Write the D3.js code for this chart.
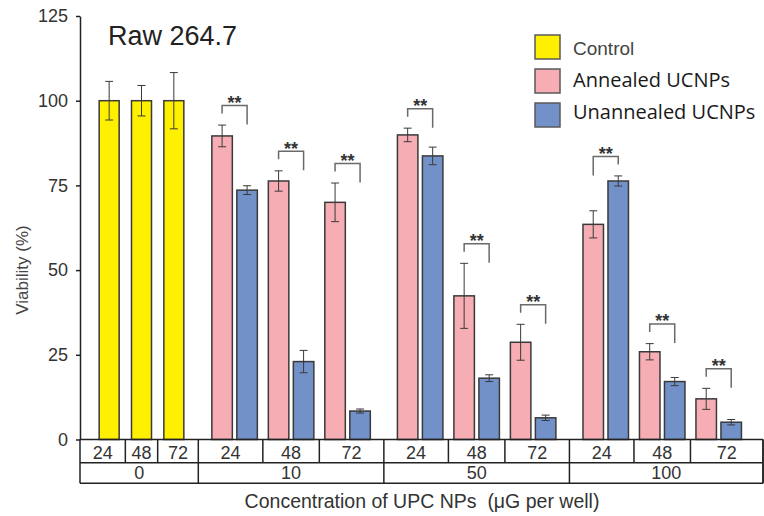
<!DOCTYPE html>
<html>
<head>
<meta charset="utf-8">
<script src="https://cdn.jsdelivr.net/npm/d3@7"></script>
<style>
  html, body { margin: 0; padding: 0; background: #fff; }
  svg { display: block; }
</style>
</head>
<body>
<svg id="chart" width="764" height="516"></svg>
<script>
// ---------- data ----------
const times = ["24", "48", "72"];
const concentrations = ["0", "10", "50", "100"];
const treatedConcentrations = ["10", "50", "100"];
const seriesNames = ["Control", "Annealed UCNPs", "Unannealed UCNPs"];
const yTicks = [0, 25, 50, 75, 100, 125];

const controlMean = [100, 100, 100];
const controlErr = [5.7, 4.5, 8.3];

// rows: concentration 10, 50, 100 ; cols: 24, 48, 72 h
const annealedMean = [[89.6, 76.3, 70.0], [89.9, 42.4, 28.7], [63.5, 25.9, 12.0]];
const annealedErr  = [[3.2, 3.0, 5.7], [2.0, 9.6, 5.3], [4.0, 2.4, 3.1]];
const unannealedMean = [[73.6, 23.0, 8.4], [83.7, 18.1, 6.4], [76.3, 17.1, 5.1]];
const unannealedErr  = [[1.3, 3.3, 0.6], [2.6, 1.0, 0.8], [1.5, 1.2, 0.8]];
const significance = [["**", "**", "**"], ["**", "**", "**"], ["**", "**", "**"]];

const title = "Raw 264.7";
const yLabel = "Viability (%)";
const xLabel = "Concentration of UPC NPs  (\u03bcG per well)";

// ---------- styles ----------
const colors = { "Control": "#fff000", "Annealed UCNPs": "#f6adb3", "Unannealed UCNPs": "#7391c9" };
const font = "'Liberation Sans', Arial, Helvetica, sans-serif";

const svg = d3.select("#chart");

const axisX = 80, y0 = 439.5, yTop = 16;
const tableRow1 = 462.7, tableRow2 = 483.3, tableRight = 763;

const y = d3.scaleLinear().domain([0, 125]).range([y0, yTop]);

// control group
const ctrlLeft = 80, ctrlRight = 198.3;
const xCtrl = d3.scaleBand().domain(times).range([93, 190]);
// treated groups
const xGroup = d3.scaleBand().domain(treatedConcentrations).range([198.3, 755]);
const xTime = d3.scaleBand().domain(times).range([0, xGroup.bandwidth()]).paddingOuter(0.1425);
const xSeries = d3.scaleBand().domain(["Annealed UCNPs", "Unannealed UCNPs"]).range([-22.75, 22.75]).paddingInner(0.18);

// ---------- bars data ----------
const bars = [];
times.forEach((t, i) => {
  const cx = xCtrl(t) + xCtrl.bandwidth() / 2;
  bars.push({ series: "Control", x: cx - 10, w: 20, v: controlMean[i], e: controlErr[i] });
});
const pairs = [];
treatedConcentrations.forEach((c, gi) => {
  times.forEach((t, ti) => {
    const center = xGroup(c) + xTime(t) + xTime.bandwidth() / 2;
    const a = { series: "Annealed UCNPs", x: center + xSeries("Annealed UCNPs"), w: xSeries.bandwidth(), v: annealedMean[gi][ti], e: annealedErr[gi][ti] };
    const u = { series: "Unannealed UCNPs", x: center + xSeries("Unannealed UCNPs"), w: xSeries.bandwidth(), v: unannealedMean[gi][ti], e: unannealedErr[gi][ti] };
    bars.push(a, u);
    pairs.push({ a, u, label: significance[gi][ti] });
  });
});

// ---------- bars ----------
svg.append("g").selectAll("rect").data(bars).join("rect")
  .attr("x", d => d.x).attr("width", d => d.w)
  .attr("y", d => y(d.v)).attr("height", d => y0 - y(d.v))
  .attr("fill", d => colors[d.series])
  .attr("stroke", "#3a3a3a").attr("stroke-width", 1.5);

// error bars
const eb = svg.append("g").attr("stroke", "#3a3a3a").attr("stroke-width", 1).attr("fill", "none");
bars.forEach(d => {
  const cx = d.x + d.w / 2;
  const t = y(d.v + d.e), b = y(d.v - d.e);
  eb.append("line").attr("x1", cx).attr("x2", cx).attr("y1", t).attr("y2", b);
  eb.append("line").attr("x1", cx - 4).attr("x2", cx + 4).attr("y1", t).attr("y2", t);
  eb.append("line").attr("x1", cx - 4).attr("x2", cx + 4).attr("y1", b).attr("y2", b);
});

// significance brackets
const br = svg.append("g");
pairs.forEach(p => {
  const ax = p.a.x + p.a.w / 2, ux = p.u.x + p.u.w / 2;
  const ta = y(p.a.v + p.a.e), tu = y(p.u.v + p.u.e);
  const by = Math.min(ta, tu) - 19.5;
  const aLeg = ta <= tu ? by + 8 : by + 19;
  const uLeg = tu < ta ? by + 8 : by + 19;
  br.append("path")
    .attr("d", `M${ax},${aLeg}V${by}H${ux}V${uLeg}`)
    .attr("fill", "none").attr("stroke", "#6a6a6a").attr("stroke-width", 1.5);
  br.append("text").attr("x", (ax + ux) / 2).attr("y", by + 3.3)
    .attr("text-anchor", "middle").attr("font-family", font).attr("font-size", 18)
    .attr("font-weight", "bold").attr("fill", "#333").text(p.label);
});

// ---------- y axis ----------
const yAxis = svg.append("g").attr("transform", `translate(${axisX},0)`)
  .call(d3.axisLeft(y).tickValues(yTicks).tickSize(4).tickPadding(8).tickSizeOuter(0));
yAxis.select(".domain").attr("stroke", "#222").attr("stroke-width", 1.5);
yAxis.selectAll(".tick line").attr("stroke", "#222").attr("stroke-width", 1.5);
yAxis.selectAll(".tick text").attr("font-family", font).attr("font-size", 18).attr("fill", "#333");

// ---------- table ----------
const tg = svg.append("g").attr("stroke", "#222").attr("stroke-width", 1.5).attr("fill", "none");
[y0, tableRow1, tableRow2].forEach(yy =>
  tg.append("line").attr("x1", axisX).attr("x2", tableRight).attr("y1", yy).attr("y2", yy));
tg.append("line").attr("x1", axisX).attr("x2", axisX).attr("y1", y0).attr("y2", tableRow2);
tg.append("line").attr("x1", tableRight).attr("x2", tableRight).attr("y1", y0).attr("y2", tableRow2);

// time cells
const cells = [];
times.forEach((t, i) => {
  const l = i === 0 ? ctrlLeft : xCtrl(t);
  const r = i === times.length - 1 ? ctrlRight : xCtrl(t) + xCtrl.step();
  cells.push({ l, r, label: t });
});
treatedConcentrations.forEach((c, gi) => {
  times.forEach((t, i) => {
    const g0 = xGroup(c);
    const l = i === 0 ? g0 : g0 + xTime(t);
    const r = i === times.length - 1 ? (gi === treatedConcentrations.length - 1 ? tableRight : g0 + xGroup.step()) : g0 + xTime(t) + xTime.step();
    cells.push({ l, r, label: t });
  });
});
cells.forEach(c => {
  tg.append("line").attr("x1", c.r).attr("x2", c.r).attr("y1", y0).attr("y2", tableRow1);
});
svg.append("g").selectAll("text").data(cells).join("text")
  .attr("x", d => (d.l + d.r) / 2).attr("y", tableRow1 - 4)
  .attr("text-anchor", "middle").attr("font-family", font).attr("font-size", 18).attr("fill", "#333")
  .text(d => d.label);

// concentration cells
const concCells = concentrations.map((c, i) => {
  if (i === 0) return { l: ctrlLeft, r: ctrlRight, label: c };
  const l = xGroup(c);
  const r = i === concentrations.length - 1 ? tableRight : l + xGroup.step();
  return { l, r, label: c };
});
concCells.forEach(c => {
  tg.append("line").attr("x1", c.r).attr("x2", c.r).attr("y1", tableRow1).attr("y2", tableRow2);
});
svg.append("g").selectAll("text").data(concCells).join("text")
  .attr("x", d => (d.l + d.r) / 2).attr("y", tableRow2 - 4)
  .attr("text-anchor", "middle").attr("font-family", font).attr("font-size", 18).attr("fill", "#333")
  .text(d => d.label);

// ---------- labels ----------
svg.append("text").attr("x", 108).attr("y", 45).attr("font-family", font).attr("font-size", 27)
  .attr("fill", "#222").text(title);

svg.append("text").attr("transform", "translate(28,270) rotate(-90)")
  .attr("text-anchor", "middle").attr("font-family", font).attr("font-size", 17).attr("fill", "#444")
  .text(yLabel);

svg.append("text").attr("x", 422).attr("y", 508).attr("text-anchor", "middle")
  .style("white-space", "pre")
  .attr("font-family", font).attr("font-size", 19.5).attr("fill", "#333").text(xLabel);

// ---------- legend ----------
const legendSquareY = [35, 69, 103];
const legendTextY = [55, 87, 118.5];
const lg = svg.append("g");
seriesNames.forEach((s, i) => {
  lg.append("rect").attr("x", 535).attr("y", legendSquareY[i]).attr("width", 25).attr("height", 24)
    .attr("fill", colors[s]).attr("stroke", "#5a5a5a").attr("stroke-width", 1.5);
  lg.append("text").attr("x", 573).attr("y", legendTextY[i])
    .attr("font-family", i === 0 ? font : "'Open Sans', 'Noto Sans', sans-serif")
    .attr("font-size", i === 0 ? 19 : 20)
    .attr("fill", i === 0 ? "#444" : "#1a1a1a").text(s);
});
</script>
</body>
</html>
